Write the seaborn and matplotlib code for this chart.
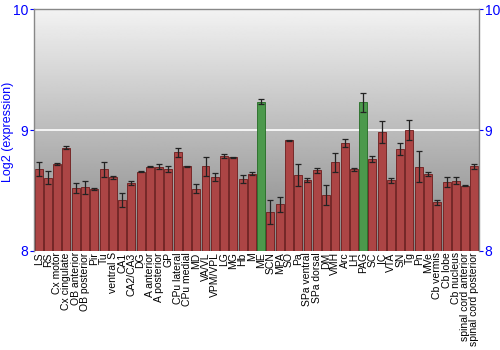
import numpy as np
import pandas as pd
import matplotlib
matplotlib.use("Agg")
import matplotlib.pyplot as plt
import seaborn as sns

regions = ["LS", "RS", "Cx motor", "Cx cingulate", "OB anterior", "OB posterior", "Pir", "Tu",
           "ventral S", "CA1", "CA2/CA3", "DG", "A anterior", "A posterior", "GP", "CPu lateral",
           "CPu medial", "MD", "VA/VL", "VPM/VPL", "LG", "MG", "Hb", "M", "ME", "SCN", "MPA", "SO",
           "Pa", "SPa ventral", "SPa dorsal", "DM", "VMH", "Arc", "LH", "PAG", "SC", "IC", "VTA",
           "SN", "Tg", "Pn", "MVe", "Cb vermis", "Cb lobe", "Cb nucleus", "spinal cord anterior",
           "spinal cord posterior"]
values = [8.675, 8.606, 8.719, 8.854, 8.518, 8.526, 8.512, 8.675,
          8.609, 8.421, 8.562, 8.655, 8.697, 8.697, 8.675, 8.815,
          8.700, 8.515, 8.700, 8.612, 8.785, 8.774, 8.595, 8.639, 9.234, 8.325, 8.386, 8.915,
          8.628, 8.587, 8.667, 8.463, 8.733, 8.893, 8.675, 9.229, 8.758, 8.983, 8.584,
          8.843, 9.000, 8.697, 8.636, 8.402, 8.568, 8.581, 8.540, 8.700]
errors = [0.058, 0.055, 0.005, 0.010, 0.040, 0.055, 0.010, 0.060,
          0.010, 0.060, 0.015, 0.005, 0.005, 0.020, 0.025, 0.040,
          0.005, 0.035, 0.080, 0.030, 0.020, 0.005, 0.035, 0.015, 0.020, 0.100, 0.060, 0.005,
          0.095, 0.020, 0.020, 0.085, 0.080, 0.035, 0.015, 0.080, 0.025, 0.090, 0.020,
          0.050, 0.080, 0.130, 0.020, 0.020, 0.040, 0.030, 0.005, 0.020]
highlight = ["ME", "PAG"]

df = pd.DataFrame({"region": regions, "value": values, "err": errors})
df["group"] = ["hi" if r in highlight else "lo" for r in regions]

sns.set_theme(style="white")
plt.rcParams['font.family'] = ['Liberation Sans', 'DejaVu Sans']

fig = plt.figure(figsize=(5, 3.5), dpi=100)
ax = fig.add_axes([0.068, 0.283, 0.89, 0.691])

# gradient background
grad = np.linspace(0.95, 0.52, 256).reshape(-1, 1)
ax.imshow(grad, cmap="gray", vmin=0, vmax=1, aspect="auto",
          extent=[0, 1, 0, 1], transform=ax.transAxes, zorder=0)

sns.barplot(data=df, x="region", y="value", hue="group",
            palette={"lo": "#bd3434", "hi": "#3fa63f"}, dodge=False,
            width=0.86, edgecolor="#6e1c1c", linewidth=0.6, legend=False,
            errorbar=None, ax=ax, zorder=2)
for patch in ax.patches:
    fc = patch.get_facecolor()
    if fc[1] > fc[0]:
        patch.set_edgecolor("#236b23")

ax.errorbar(np.arange(len(regions)), df["value"], yerr=df["err"], fmt="none",
            ecolor="#222222", elinewidth=0.9, capsize=2, capthick=0.9, zorder=3)

ax.axhline(9, color="white", lw=1.2, zorder=1)
ax.set_ylim(8, 10)
ax.set_xlim(-0.5, len(regions) - 0.5)
ax.set_yticks([8, 9, 10])
ax.set_yticklabels(["8", "9", "10"])
ax.tick_params(axis="y", colors="blue", labelsize=10, length=3, width=0.8,
               left=True, right=True, labelright=True, direction="out", pad=1)
for lbl in ax.get_yticklabels():
    lbl.set_color("blue")
ax.tick_params(axis="x", labelsize=7.5, rotation=90, length=0, pad=1, labelcolor="black")
ax.set_xlabel("")
ax.set_ylabel("")
fig.text(0.017, 0.623, "Log2 (expression)", color="blue", fontsize=9,
         rotation=90, ha="center", va="center")
for s in ["left", "right", "top"]:
    ax.spines[s].set_color("#888888")
    ax.spines[s].set_linewidth(1)
ax.spines["bottom"].set_visible(False)
ax.set_facecolor("white")

fig.savefig("out.png", dpi=100)
